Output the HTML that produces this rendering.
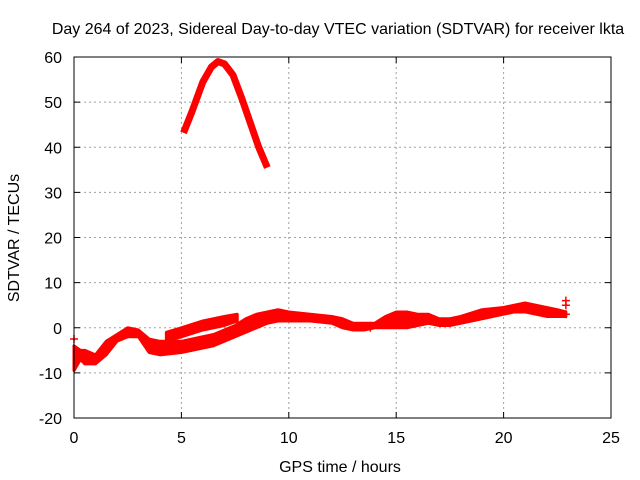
<!DOCTYPE html>
<html><head><meta charset="utf-8"><style>
body{margin:0;background:#fff}
svg{display:block;font-family:"Liberation Sans",sans-serif;font-size:16px}
</style></head><body>
<svg id="chart" width="640" height="480">
<rect width="640" height="480" fill="#fff"/>
<g id="grid"></g>
<g id="marks"></g>
<rect x="74" y="57" width="537" height="361" fill="none" stroke="#000" stroke-width="1"/>
<g id="ticks"></g>
<text x="338" y="34" text-anchor="middle">Day 264 of 2023, Sidereal Day-to-day VTEC variation (SDTVAR) for receiver lkta</text>
<text x="340" y="472" text-anchor="middle">GPS time / hours</text>
<text transform="translate(19,238) rotate(-90)" text-anchor="middle">SDTVAR / TECUs</text>
</svg>
<script>
const xTicks=[0,5,10,15,20,25];
const yTicks=[-20,-10,0,10,20,30,40,50,60];
// band A: [t, low, high]
const bandT=[0,0.3,0.5,1,1.5,2,2.5,3,3.5,4,5,6,6.5,7,7.5,8,8.5,9,9.5,10,11,12,12.5,13,13.5,14,14.5,15,15.5,16,16.5,17,17.5,18,19,20,20.5,21,21.5,22,22.5,22.9];
const bandLo=[-9.5,-7,-8,-8,-6,-3,-2,-2,-5.5,-6,-5.5,-4.5,-4,-3,-2,-1,0,1,1.5,1.5,1.5,1,0,-0.5,-0.5,0,0,0,0,0.5,1,0.5,0.5,1,2,3,3.5,3.5,3,2.5,2.5,2.5];
const bandHi=[-4,-5,-5,-6,-3,-1.5,0,-0.5,-2.5,-3,-3,-2,-1.5,-0.5,0.5,2,3,3.5,4,3.5,3,2.5,2,1,1,1,2.5,3.5,3.5,3,3,2,2,2.5,4,4.5,5,5.5,5,4.5,4,3.5];
// upper strand
const strandT=[4.3,5,6,7,7.6];
const strandLo=[-3,-2,-0.5,0.5,1.5];
const strandHi=[-1,0,1.5,2.5,3];
// daytime arc
const arcT=[5.1,5.5,6,6.4,6.7,7.0,7.4,7.8,8.2,8.6,9.0];
const arcV=[43.2,48,54.5,57.8,59,58.5,56,51,45.5,40,35.5];
// isolated points
const ptT=[0,13.8,14.2,22.9,22.9,22.9];
const ptV=[-2.5,0,1,6,5,3];
const X=t=>74+t*537/25, Y=v=>418-(v+20)*361/80;
const NS="http://www.w3.org/2000/svg";
function mk(tag,attrs,parent){const e=document.createElementNS(NS,tag);for(const k in attrs)e.setAttribute(k,attrs[k]);parent.appendChild(e);return e;}
const grid=document.getElementById('grid'),ticks=document.getElementById('ticks'),marks=document.getElementById('marks');
xTicks.forEach(t=>{
 if(t>0&&t<25){const g=mk('line',{x1:X(t),x2:X(t),y1:57,y2:418,stroke:'#a0a0a0','stroke-dasharray':'2,3'},grid);
 
 }
 mk('line',{x1:X(t),x2:X(t),y1:418,y2:412,stroke:'#000'},ticks);
 mk('line',{x1:X(t),x2:X(t),y1:57,y2:63,stroke:'#000'},ticks);
 const l=mk('text',{x:X(t),y:443,'text-anchor':'middle'},ticks);l.textContent=t;
 
 
});
yTicks.forEach(v=>{
 if(v>-20&&v<60){const g=mk('line',{x1:74,x2:611,y1:Y(v),y2:Y(v),stroke:'#a0a0a0','stroke-dasharray':'2,3'},grid);
 
 }
 mk('line',{x1:74,x2:80,y1:Y(v),y2:Y(v),stroke:'#000'},ticks);
 mk('line',{x1:611,x2:605,y1:Y(v),y2:Y(v),stroke:'#000'},ticks);
 const l=mk('text',{x:62,y:Y(v)+6,'text-anchor':'end'},ticks);l.textContent=v;
 
 
});
function band(T,lo,hi,name){
 let pts=T.map((t,i)=>X(t)+','+Y(hi[i]));
 for(let i=T.length-1;i>=0;i--)pts.push(X(T[i])+','+Y(lo[i]));
 const p=mk('polygon',{points:pts.join(' '),fill:'#f00',stroke:'#f00','stroke-width':3,'stroke-linejoin':'round'},marks);
 
 
}
band(bandT,bandLo,bandHi,'main-band');
band(strandT,strandLo,strandHi,'upper-strand');
const arc=mk('polyline',{points:arcT.map((t,i)=>X(t)+','+Y(arcV[i])).join(' '),fill:'none',stroke:'#f00','stroke-width':7,'stroke-linejoin':'round'},marks);


ptT.forEach((t,i)=>{
 const g=mk('path',{d:`M${X(t)-4},${Y(ptV[i])}h8M${X(t)},${Y(ptV[i])-4}v8`,stroke:'#f00','stroke-width':1.5},marks);
 
 
});
</script>
</body></html>
